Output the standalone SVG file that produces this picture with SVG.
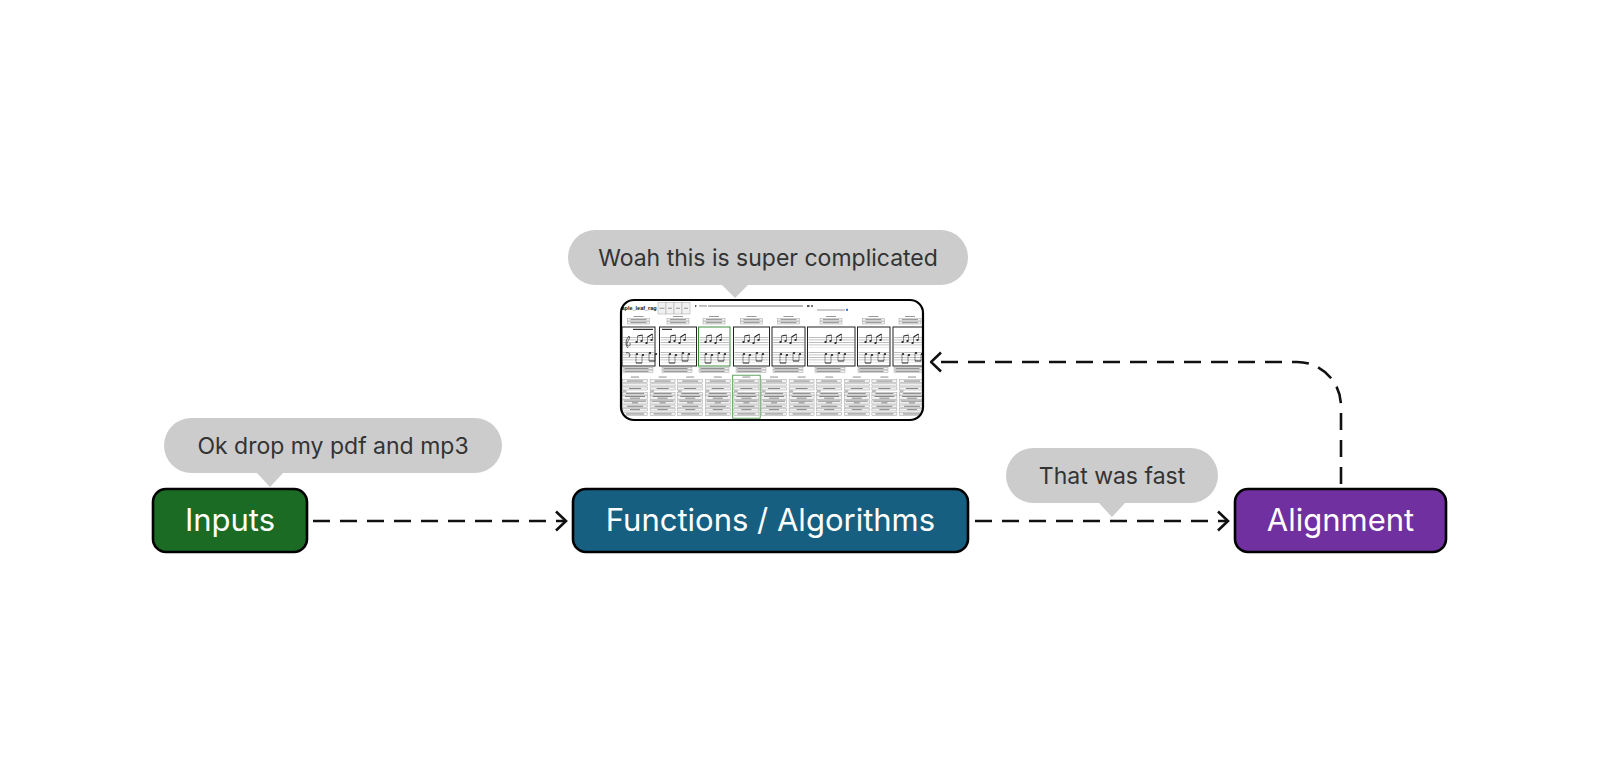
<svg xmlns="http://www.w3.org/2000/svg" width="1600" height="784" viewBox="0 0 1600 784">
<style>
.nbox{stroke:#000;stroke-width:2.6}
.ntext{font-family:Inter,"Liberation Sans",sans-serif;font-size:31px;fill:#fff;text-anchor:middle}
.bubble{fill:#cccccc}
.btext{font-family:Inter,"Liberation Sans",sans-serif;font-size:23px;fill:#333;text-anchor:middle}
.conn{fill:none;stroke:#111;stroke-width:2.6;stroke-dasharray:17 10}
.sb{fill:#f1f1f1;stroke:#999;stroke-width:0.45}
.tb{fill:#7a7a7a}
.mbox{fill:#fff;stroke:#222;stroke-width:1}
.stem{stroke:#222;stroke-width:0.5;fill:none}
.beam{stroke:#222;stroke-width:1.1;fill:none}
.head{fill:#222}
</style>
<defs>
<marker id="arr" viewBox="0 0 13 22" refX="11.5" refY="11" markerWidth="13" markerHeight="22" markerUnits="userSpaceOnUse" orient="auto">
<path d="M1.5 1.5 L11.5 11 L1.5 20.5" fill="none" stroke="#111" stroke-width="2.6" stroke-dasharray="none"/>
</marker>
<clipPath id="shotclip"><rect x="621" y="300" width="302" height="120" rx="13"/></clipPath>
<pattern id="staff" patternUnits="userSpaceOnUse" width="10" height="2.5" patternTransform="translate(0 337)">
<rect x="0" y="0" width="10" height="0.45" fill="#777"/>
</pattern>
<symbol id="col" overflow="visible">
<rect x="9" y="0.5" width="8" height="1.1" fill="#999"/>
<rect x="0.5" y="3.5" width="25" height="3.2" class="sb"/><rect x="5" y="4.6" width="16" height="0.9" class="tb"/>
<rect x="0.5" y="7.8" width="25" height="2.2" class="sb"/>
<rect x="0.5" y="11" width="25" height="3" class="sb"/><rect x="7" y="12" width="12" height="0.9" class="tb"/>
<rect x="0.5" y="14.6" width="4" height="0.9" class="tb"/>
<rect x="0.5" y="16.3" width="25" height="2.7" class="sb"/><rect x="4" y="17.2" width="18" height="0.9" class="tb"/>
<rect x="0.5" y="19.3" width="25" height="4" class="sb"/><rect x="3" y="20" width="20" height="0.9" class="tb"/><rect x="8" y="21.7" width="10" height="0.9" class="tb"/>
<rect x="0.5" y="24" width="25" height="4" class="sb"/><rect x="2" y="24.7" width="22" height="0.9" class="tb"/><rect x="10" y="26.4" width="6" height="0.9" class="tb"/>
<rect x="0.5" y="29" width="25" height="2.5" class="sb"/><rect x="5" y="29.8" width="16" height="0.9" class="tb"/>
<rect x="0.5" y="32.3" width="25" height="2.7" class="sb"/><rect x="8" y="33.2" width="10" height="0.9" class="tb"/>
<rect x="0.5" y="36.5" width="25" height="3" class="sb"/><rect x="4" y="37.5" width="18" height="0.9" class="tb"/>
</symbol>
<symbol id="mlab" overflow="visible">
<rect x="-5" y="1" width="10" height="1" fill="#999"/>
<rect x="-11" y="3.5" width="22" height="2.5" class="sb"/><rect x="-8" y="4.3" width="16" height="0.8" class="tb"/>
<rect x="-11" y="6.5" width="22" height="2.5" class="sb"/><rect x="-8" y="7.3" width="16" height="0.8" class="tb"/>
</symbol>
<symbol id="mfoot" overflow="visible">
<rect x="0" y="0.8" width="30" height="2.4" class="sb"/><rect x="1.5" y="1.6" width="24" height="0.8" class="tb"/>
<rect x="0" y="3.6" width="30" height="2.4" class="sb"/><rect x="1.5" y="4.4" width="24" height="0.8" class="tb"/>
</symbol>
<symbol id="notes" overflow="visible">
<path class="stem" d="M6.5 9V15 M11.5 8V14 M16.5 10V16 M21.5 7V13"/>
<path class="beam" d="M6.5 9L11.5 8 M16.5 10L21.5 7"/>
<ellipse class="head" cx="5.5" cy="15" rx="1.2" ry="0.9"/>
<ellipse class="head" cx="10.5" cy="14" rx="1.2" ry="0.9"/>
<ellipse class="head" cx="15.5" cy="16" rx="1.2" ry="0.9"/>
<ellipse class="head" cx="20.5" cy="13" rx="1.2" ry="0.9"/>
<path class="stem" d="M5 27V36 M11 28V36 M18 26V34 M24 27V34"/>
<path class="beam" d="M5 36L11 36 M18 34L24 34"/>
<ellipse class="head" cx="6" cy="27" rx="1.2" ry="0.9"/>
<ellipse class="head" cx="12" cy="28" rx="1.2" ry="0.9"/>
<ellipse class="head" cx="19" cy="26" rx="1.2" ry="0.9"/>
<ellipse class="head" cx="25" cy="27" rx="1.2" ry="0.9"/>
</symbol>
</defs>

<rect width="1600" height="784" fill="#fff"/>

<g id="connectors">
<path class="conn" d="M313 521 H566" marker-end="url(#arr)"/>
<path class="conn" d="M975 521 H1228" marker-end="url(#arr)"/>
<path class="conn" d="M1341 484 V406 A44 44 0 0 0 1297 362 H931" marker-end="url(#arr)"/>
</g>

<g id="screenshot">
<rect x="621" y="300" width="302" height="120" rx="13" fill="#fff"/>
<g clip-path="url(#shotclip)">
<text x="616.6" y="309.5" font-family="Liberation Sans,sans-serif" font-weight="bold" font-size="5.5" fill="#111">maple_leaf_rag</text>
<rect x="658" y="302.7" width="8" height="11.3" class="sb"/><rect x="666" y="302.7" width="8" height="11.3" class="sb"/>
<rect x="674" y="302.7" width="8" height="11.3" class="sb"/><rect x="682" y="302.7" width="8" height="11.3" class="sb"/>
<rect x="659.5" y="307.8" width="5" height="0.8" class="tb"/><rect x="668" y="307.8" width="4" height="0.8" class="tb"/>
<rect x="676" y="307.8" width="4" height="0.8" class="tb"/><rect x="684" y="307.8" width="4" height="0.8" class="tb"/>
<path d="M695 304.8 L697 306 L695 307.2Z" fill="#444"/>
<rect x="699" y="305.5" width="8" height="0.9" class="tb"/>
<rect x="708" y="305.6" width="95" height="0.8" fill="#555"/>
<rect x="807" y="305" width="2.5" height="2" fill="#555"/><rect x="811" y="305" width="2" height="2" fill="#777"/>
<rect x="817" y="309.5" width="28" height="1" fill="#999"/>
<rect x="846" y="308.8" width="2" height="2" fill="#2a6fd6"/>

<use href="#mlab" x="638.5" y="315"/>
<use href="#mlab" x="678" y="315"/>
<use href="#mlab" x="714" y="315"/>
<use href="#mlab" x="751.5" y="315"/>
<use href="#mlab" x="788.5" y="315"/>
<use href="#mlab" x="831" y="315"/>
<use href="#mlab" x="873.5" y="315"/>
<use href="#mlab" x="910" y="315"/>

<rect x="622" y="327" width="33" height="39" class="mbox"/>
<rect x="659.5" y="327" width="37" height="39" class="mbox"/>
<rect x="698.5" y="327" width="31.5" height="39" class="mbox" style="stroke:#3c8a3c"/>
<rect x="733.5" y="327" width="36" height="39" class="mbox"/>
<rect x="772" y="327" width="33" height="39" class="mbox"/>
<rect x="807.5" y="327" width="47.5" height="39" class="mbox"/>
<rect x="857.5" y="327" width="32.5" height="39" class="mbox"/>
<rect x="893" y="327" width="35" height="39" class="mbox"/>

<rect x="623" y="336.9" width="31" height="10.4" fill="url(#staff)"/><rect x="623" y="351.9" width="31" height="10.4" fill="url(#staff)"/>
<rect x="660.5" y="336.9" width="35" height="10.4" fill="url(#staff)"/><rect x="660.5" y="351.9" width="35" height="10.4" fill="url(#staff)"/>
<rect x="699.5" y="336.9" width="29.5" height="10.4" fill="url(#staff)"/><rect x="699.5" y="351.9" width="29.5" height="10.4" fill="url(#staff)"/>
<rect x="734.5" y="336.9" width="34" height="10.4" fill="url(#staff)"/><rect x="734.5" y="351.9" width="34" height="10.4" fill="url(#staff)"/>
<rect x="773" y="336.9" width="31" height="10.4" fill="url(#staff)"/><rect x="773" y="351.9" width="31" height="10.4" fill="url(#staff)"/>
<rect x="808.5" y="336.9" width="45.5" height="10.4" fill="url(#staff)"/><rect x="808.5" y="351.9" width="45.5" height="10.4" fill="url(#staff)"/>
<rect x="858.5" y="336.9" width="30.5" height="10.4" fill="url(#staff)"/><rect x="858.5" y="351.9" width="30.5" height="10.4" fill="url(#staff)"/>
<rect x="894" y="336.9" width="33" height="10.4" fill="url(#staff)"/><rect x="894" y="351.9" width="33" height="10.4" fill="url(#staff)"/>

<rect x="633" y="328.8" width="20" height="1.2" fill="#333"/>
<rect x="662" y="328.8" width="10" height="1.2" fill="#333"/>
<path d="M628 348 C624 344 627 338 629 336 C631 339 626 342 627 345 C628 347 631 346 630 343" fill="none" stroke="#222" stroke-width="0.7"/>
<path d="M626 353 C629 352 631 354 629 357" fill="none" stroke="#222" stroke-width="0.8"/>
<use href="#notes" x="631" y="327"/>
<use href="#notes" x="664" y="327"/>
<use href="#notes" x="700" y="327"/>
<use href="#notes" x="738" y="327"/>
<use href="#notes" x="775" y="327"/>
<use href="#notes" x="820" y="327"/>
<use href="#notes" x="860" y="327"/>
<use href="#notes" x="897" y="327"/>

<use href="#mfoot" x="623" y="366.5"/>
<use href="#mfoot" x="662" y="366.5"/>
<use href="#mfoot" x="699" y="366.5"/>
<use href="#mfoot" x="736" y="366.5"/>
<use href="#mfoot" x="773" y="366.5"/>
<use href="#mfoot" x="815" y="366.5"/>
<use href="#mfoot" x="858" y="366.5"/>
<use href="#mfoot" x="894" y="366.5"/>

<use href="#col" x="622" y="376"/>
<use href="#col" x="649.6" y="376"/>
<use href="#col" x="677.2" y="376"/>
<use href="#col" x="704.8" y="376"/>
<use href="#col" x="733.4" y="376"/>
<use href="#col" x="761" y="376"/>
<use href="#col" x="788.6" y="376"/>
<use href="#col" x="816.2" y="376"/>
<use href="#col" x="843.8" y="376"/>
<use href="#col" x="871.4" y="376"/>
<use href="#col" x="899" y="376"/>
<rect x="732.7" y="375.2" width="27.5" height="43" fill="none" stroke="#3c8a3c" stroke-width="0.8"/>
</g>
<rect x="621" y="300" width="302" height="120" rx="13" fill="none" stroke="#000" stroke-width="2.2"/>
</g>

<g id="node-inputs">
<rect class="nbox" x="153" y="489" width="154" height="63" rx="13" fill="#1b6b25"/>
<text class="ntext" x="230" y="531">Inputs</text>
</g>
<g id="node-functions">
<rect class="nbox" x="573" y="489" width="395" height="63" rx="13" fill="#175f81"/>
<text class="ntext" x="770.5" y="531">Functions / Algorithms</text>
</g>
<g id="node-alignment">
<rect class="nbox" x="1235" y="489" width="211" height="63" rx="13" fill="#7030a0"/>
<text class="ntext" x="1340.5" y="531">Alignment</text>
</g>

<g id="bubble-inputs">
<rect class="bubble" x="164" y="418" width="338" height="55" rx="27.5"/>
<path class="bubble" d="M256 472 L270 487 L284 472Z"/>
<text class="btext" x="333" y="454">Ok drop my pdf and mp3</text>
</g>
<g id="bubble-screenshot">
<rect class="bubble" x="568" y="230" width="400" height="55" rx="27.5"/>
<path class="bubble" d="M721 284 L735 298 L749 284Z"/>
<text class="btext" x="768" y="266">Woah this is super complicated</text>
</g>
<g id="bubble-fast">
<rect class="bubble" x="1006" y="448" width="212" height="55" rx="27.5"/>
<path class="bubble" d="M1098 502 L1112 517 L1126 502Z"/>
<text class="btext" x="1112" y="484">That was fast</text>
</g>
</svg>
